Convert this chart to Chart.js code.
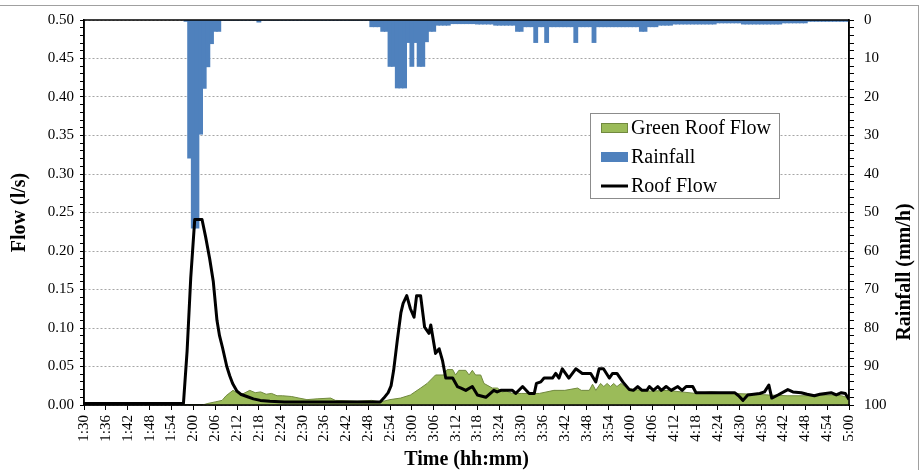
<!DOCTYPE html>
<html>
<head>
<meta charset="utf-8">
<script src="https://cdn.jsdelivr.net/npm/chart.js@4.4.0/dist/chart.umd.min.js"></script>
<style>
  html, body { margin: 0; padding: 0; background: #fff; }
</style>
</head>
<body>
<canvas id="flowChart" width="924" height="470"></canvas>
<script>
// x values are minutes after 1:30
var timeLabels = ["1:30","1:36","1:42","1:48","1:54","2:00","2:06","2:12","2:18","2:24","2:30","2:36",
	"2:42","2:48","2:54","3:00","3:06","3:12","3:18","3:24","3:30","3:36","3:42","3:48",
	"3:54","4:00","4:06","4:12","4:18","4:24","4:30","4:36","4:42","4:48","4:54","5:00"];

var roofTime = [0, 27.3, 28.3, 29.3, 30.4, 32.4, 33.4, 34.5, 35.5, 36.5, 37.2, 38.0, 39.2, 40.0, 40.8,
	42.0, 43.0, 44.7, 46.5, 48.4, 51, 55, 81.3, 82.3, 83.5, 84.3, 85.0, 86.0, 87.0, 87.6, 88.6,
	89.6, 90.6, 91.3, 92.4, 93.5, 94.7, 95.2, 96.5, 97.5, 98.4, 99.3, 101.2, 102.5, 103.5, 104.8,
	106.6, 108.0, 110.3, 112.5, 113.4, 114.4, 117.6, 118.5, 120.4, 122.2, 123.6, 124.2, 125.4,
	126.3, 128.6, 129.5, 130.4, 131.3, 133.1, 135.0, 136.8, 139.1, 140.5, 141.4, 142.6, 144.2,
	145.1, 146.3, 147.9, 149.7, 150.8, 152.0, 153.2, 154.5, 155.2, 156.3, 157.5, 158.5, 159.8,
	161.2, 163.0, 164.2, 165.3, 167.1, 168.0, 178.6, 179.7, 180.9, 182.2, 185.5, 186.8, 188.0,
	188.8, 190.5, 193.2, 194.6, 196.9, 198.5, 200.5, 202.0, 205.1, 206.5, 207.9, 209.0, 210];
var roofFlow = [0.002, 0.002, 0.07, 0.165, 0.241, 0.241, 0.218, 0.19, 0.16, 0.11, 0.09, 0.075, 0.05, 0.038, 0.028,
	0.018, 0.014, 0.011, 0.008, 0.006, 0.005, 0.004, 0.004, 0.009, 0.016, 0.025, 0.045, 0.084, 0.12, 0.132, 0.142,
	0.125, 0.114, 0.142, 0.142, 0.101, 0.093, 0.104, 0.067, 0.073, 0.058, 0.035, 0.035, 0.024, 0.022, 0.019,
	0.024, 0.013, 0.010, 0.019, 0.017, 0.019, 0.019, 0.015, 0.024, 0.015, 0.015, 0.028, 0.030,
	0.035, 0.035, 0.041, 0.035, 0.047, 0.035, 0.047, 0.041, 0.041, 0.030, 0.047, 0.047, 0.035,
	0.041, 0.041, 0.030, 0.020, 0.019, 0.024, 0.019, 0.019, 0.024, 0.019, 0.024, 0.019, 0.024,
	0.019, 0.024, 0.019, 0.024, 0.024, 0.016, 0.016, 0.012, 0.006, 0.013, 0.015, 0.017, 0.026,
	0.009, 0.013, 0.020, 0.017, 0.016, 0.014, 0.012, 0.014, 0.016, 0.013, 0.016, 0.015, 0.007];

var greenTime = [0, 32.5, 34, 36, 37.9, 39, 40.9, 43, 45.5, 47, 48.5, 50, 51.5, 53, 54.5, 57, 59, 61.2,
	64, 67.7, 69, 75, 79, 81.4, 84, 86.9, 89.6, 92.4, 94.2, 96.5, 98.8, 99.7, 101.2, 102, 102.9,
	104.8, 105.7, 106.6, 107.5, 108.9, 109.8, 112.1, 113.5, 114.8, 116, 117.6, 120, 125, 129, 132,
	135.5, 136.5, 138.7, 139.6, 140.5, 141.8, 142.7, 143.6, 144.5, 145.4, 146.3, 147.4, 149, 151,
	155.6, 160, 164, 168, 172, 178, 184, 188, 193, 200, 205, 208, 210];
var greenFlow = [0, 0, 0.002, 0.004, 0.006, 0.012, 0.019, 0.013, 0.019, 0.016, 0.017, 0.014, 0.015, 0.012, 0.012, 0.011, 0.009, 0.007,
	0.008, 0.009, 0.006, 0.005, 0.006, 0.004, 0.007, 0.009, 0.013, 0.022, 0.028, 0.039, 0.039, 0.046, 0.046, 0.039, 0.045,
	0.045, 0.039, 0.045, 0.039, 0.039, 0.028, 0.022, 0.022, 0.017, 0.018, 0.015, 0.015, 0.015, 0.019, 0.019,
	0.022, 0.019, 0.019, 0.027, 0.019, 0.028, 0.024, 0.028, 0.024, 0.028, 0.024, 0.028, 0.022, 0.020,
	0.018, 0.019, 0.017, 0.015, 0.017, 0.015, 0.014, 0.013, 0.012, 0.012, 0.013, 0.012, 0.009];

// rainfall (mm/h), one value per minute starting at 1:58
var rainStart = 28;
var rainfall = [
	0.3, 35.8, 54, 54, 29.6, 17.7, 12.1, 6.1, 2.9, 2.9,
	0, 0, 0, 0, 0, 0, 0, 0, 0, 0,
	0.5, 0, 0, 0, 0, 0, 0, 0, 0, 0,
	0, 0, 0, 0, 0, 0, 0, 0, 0, 0,
	0, 0, 0, 0, 0, 0, 0, 0, 0, 0,
	0, 1.7, 1.7, 1.7, 2.9, 2.9, 12, 12, 17.6, 17.6,
	17.6, 5.8, 12, 5.8, 12, 12, 5.6, 2.9, 2.9, 1.3,
	1.3, 1.3, 1.3, 0.9, 0.9, 0.9, 0.9, 0.9, 0.9, 0.9,
	1.0, 1.0, 1.0, 1.0, 1.0, 1.3, 1.3, 1.3, 1.3, 1.3,
	1.3, 2.9, 2.9, 1.7, 1.7, 1.7, 5.8, 1.7, 1.7, 5.8,
	1.7, 1.7, 1.7, 1.7, 1.7, 1.7, 1.7, 5.8, 1.7, 1.7,
	1.7, 1.7, 5.8, 1.7, 1.7, 1.7, 1.7, 1.7, 1.7, 1.7,
	1.7, 1.7, 1.7, 1.7, 1.7, 2.9, 2.9, 1.7, 1.7, 1.7,
	1.3, 1.3, 1.3, 1.3, 1.0, 1.0, 1.0, 1.0, 1.0, 1.0,
	1.0, 1.0, 1.0, 1.0, 1.0, 1.0, 0.7, 0.7, 0.7, 0.7,
	0.7, 0.7, 0.7, 1.0, 1.0, 1.0, 1.0, 1.0, 1.0, 1.0,
	1.0, 1.0, 1.0, 1.0, 0.7, 0.7, 0.7, 0.7, 0.7, 0.7,
	0.7, 0.3, 0.3, 0.3, 0.3, 0.3, 0.3, 0.3, 0.3, 0.3,
	0.3, 0.3, 0.3];

var SERIF = "'Liberation Serif', 'Times New Roman', serif";

function pairs(xs, ys) {
	return xs.map(function(x, i) { return {x: x, y: ys[i]}; });
}

var legendBox = {
	id: 'legendBox',
	afterDraw: function(chart) {
		var ctx = chart.ctx;
		var x0 = 590, y0 = 113, w = 189, h = 85;
		ctx.save();
		ctx.fillStyle = '#fff';
		ctx.fillRect(x0, y0, w, h);
		ctx.strokeStyle = '#8c8c8c';
		ctx.lineWidth = 1;
		ctx.strokeRect(x0 + 0.5, y0 + 0.5, w, h);
		ctx.font = '20px ' + SERIF;
		ctx.textBaseline = 'middle';
		ctx.textAlign = 'left';
		[0, 1, 2].forEach(function(r) {
			var ds = chart.data.datasets[r];
			var cy = y0 + 15 + r * 29;
			if (ds.type === 'line' && !ds.fill) {
				ctx.strokeStyle = ds.borderColor;
				ctx.lineWidth = 3;
				ctx.beginPath();
				ctx.moveTo(x0 + 11, cy);
				ctx.lineTo(x0 + 38, cy);
				ctx.stroke();
			} else {
				ctx.fillStyle = ds.backgroundColor;
				ctx.fillRect(x0 + 11, cy - 5, 27, 10);
				if (ds.fill) {
					ctx.strokeStyle = ds.borderColor;
					ctx.lineWidth = 1;
					ctx.strokeRect(x0 + 11.5, cy - 4.5, 26, 9);
				}
			}
			ctx.fillStyle = '#000';
			ctx.fillText(ds.label, x0 + 41, cy + 1);
		});
		ctx.restore();
	}
};

var frame = {
	id: 'frame',
	beforeDraw: function(chart) {
		var ctx = chart.ctx;
		ctx.save();
		ctx.strokeStyle = '#a0a0a0';
		ctx.lineWidth = 1;
		ctx.strokeRect(-2, 5.5, 920.5, 470);
		ctx.restore();
	},
	afterDatasetsDraw: function(chart) {
		var a = chart.chartArea, ctx = chart.ctx;
		ctx.save();
		ctx.strokeStyle = '#000';
		ctx.lineWidth = 1.5;
		ctx.strokeRect(a.left, a.top, a.right - a.left, a.bottom - a.top);
		// right axis title, read from bottom to top
		ctx.translate(905, 272);
		ctx.rotate(-Math.PI / 2);
		ctx.font = 'bold 20px ' + SERIF;
		ctx.fillStyle = '#000';
		ctx.textAlign = 'center';
		ctx.textBaseline = 'middle';
		ctx.fillText('Rainfall (mm/h)', 0, 0);
		ctx.restore();
	}
};

var ctx = document.getElementById('flowChart').getContext('2d');
var chart = new Chart(ctx, {
	data: {
		datasets: [{
			type: 'line',
			label: 'Green Roof Flow',
			data: pairs(greenTime, greenFlow),
			yAxisID: 'yFlow',
			backgroundColor: '#9bbb59',
			borderColor: '#71893f',
			borderWidth: 1,
			fill: 'origin',
			pointRadius: 0,
			tension: 0,
			order: 2
		}, {
			type: 'bar',
			label: 'Rainfall',
			data: rainfall.map(function(v, i) { return {x: rainStart + i, y: v}; }),
			yAxisID: 'yRain',
			backgroundColor: '#4f81bd',
			borderWidth: 0,
			barPercentage: 1,
			categoryPercentage: 1,
			inflateAmount: 0.6,
			order: 3
		}, {
			type: 'line',
			label: 'Roof Flow',
			data: pairs(roofTime, roofFlow),
			yAxisID: 'yFlow',
			borderColor: '#000',
			borderWidth: 3,
			borderJoinStyle: 'round',
			fill: false,
			pointRadius: 0,
			tension: 0,
			order: 1
		}]
	},
	options: {
		responsive: false,
		animation: false,
		events: [],
		layout: { padding: { left: 0, right: 0, top: 20, bottom: 0 } },
		plugins: {
			legend: { display: false },
			tooltip: { enabled: false }
		},
		scales: {
			x: {
				type: 'linear',
				min: 0,
				max: 210,
				offset: false,
				afterFit: function(s) { s.height = 65; },
				ticks: {
					stepSize: 6,
					autoSkip: false,
					maxRotation: 90,
					minRotation: 90,
					padding: 5,
					color: '#000',
					font: { family: SERIF, size: 15 },
					callback: function(v) { return timeLabels[Math.round(v / 6)]; }
				},
				grid: { offset: false, drawOnChartArea: false, tickLength: 5, tickColor: '#000', tickWidth: 1 },
				border: { display: true, color: '#000', width: 1.5 },
				title: {
					display: true,
					text: 'Time (hh:mm)',
					color: '#000',
					font: { family: SERIF, size: 20, weight: 'bold', lineHeight: 1 },
					padding: { top: 0, bottom: 0 }
				}
			},
			yFlow: {
				type: 'linear',
				position: 'left',
				min: 0,
				max: 0.5,
				afterFit: function(s) { s.width = 84; },
				ticks: {
					stepSize: 0.01,
					autoSkip: false,
					maxTicksLimit: 100,
					padding: 6,
					color: '#000',
					font: { family: SERIF, size: 15 },
					callback: function(v) {
						var k = Math.round(v * 100);
						return k % 5 === 0 ? (k / 100).toFixed(2) : '';
					}
				},
				grid: {
					color: function(c) {
						var k = Math.round(c.tick.value * 100);
						return k % 5 === 0 ? '#a6a6a6' : 'rgba(0,0,0,0)';
					},
					lineWidth: 1,
					tickLength: 4,
					tickColor: '#000',
					tickWidth: 1
				},
				border: { display: true, color: '#000', width: 1.5, dash: [2, 2] },
				title: {
					display: true,
					text: 'Flow (l/s)',
					color: '#000',
					font: { family: SERIF, size: 20, weight: 'bold', lineHeight: 1 },
					padding: { top: 10, bottom: 0 }
				}
			},
			yRain: {
				type: 'linear',
				position: 'right',
				min: 0,
				max: 100,
				reverse: true,
				afterFit: function(s) { s.width = 75; },
				ticks: {
					stepSize: 2,
					autoSkip: false,
					maxTicksLimit: 100,
					padding: 10,
					color: '#000',
					font: { family: SERIF, size: 15 },
					callback: function(v) { return v % 10 === 0 ? String(v) : ''; }
				},
				grid: { drawOnChartArea: false, tickLength: 5, tickColor: '#000', tickWidth: 1 },
				border: { display: true, color: '#000', width: 1.5 }
			}
		}
	},
	plugins: [frame, legendBox]
});
</script>
</body>
</html>
